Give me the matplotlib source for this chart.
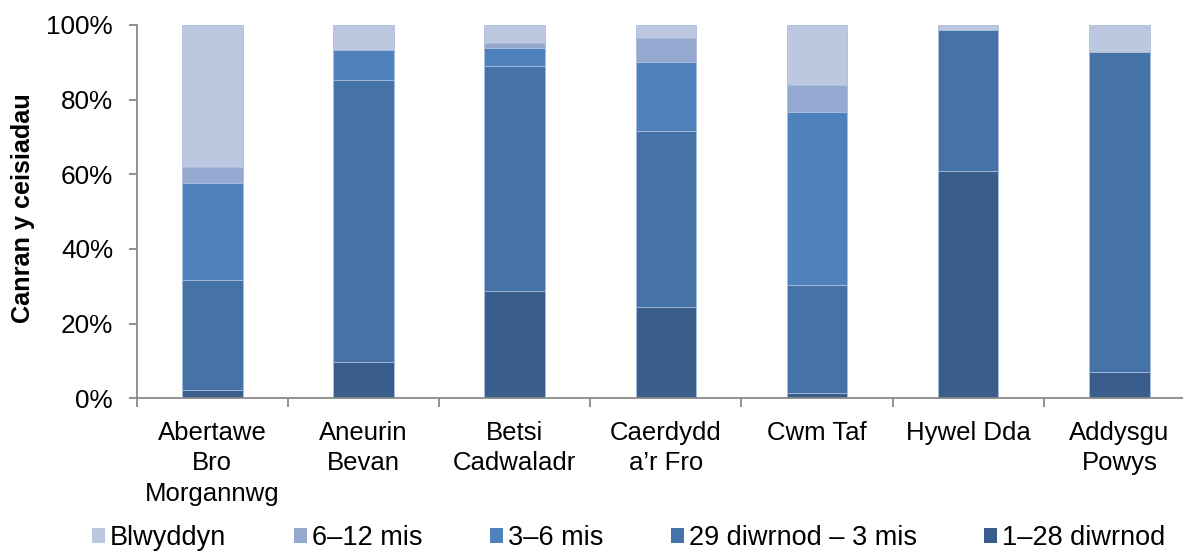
import matplotlib.pyplot as plt
from matplotlib.patches import Patch
import numpy as np

plt.rcParams["font.family"] = ["Liberation Sans", "DejaVu Sans"]

categories = [
    "Abertawe\nBro\nMorgannwg",
    "Aneurin\nBevan",
    "Betsi\nCadwaladr",
    "Caerdydd\na\u2019r Fro",
    "Cwm Taf",
    "Hywel Dda",
    "Addysgu\nPowys",
]

# percentage of requests, bottom segment first
days_1_28 = [2.2, 9.6, 28.7, 24.4, 1.3, 60.8, 7.0]
days_29_3m = [29.4, 75.6, 60.4, 47.1, 29.0, 37.9, 85.9]
months_3_6 = [26.2, 8.1, 4.8, 18.7, 46.4, 0.0, 0.0]
months_6_12 = [4.2, 0.0, 1.4, 6.4, 7.2, 0.0, 0.0]
year_plus = [38.0, 6.7, 4.7, 3.4, 16.1, 1.3, 7.1]

series = [
    ("1\u201328 diwrnod", days_1_28, "#3A5E8C"),
    ("29 diwrnod \u2013 3 mis", days_29_3m, "#4573A7"),
    ("3\u20136 mis", months_3_6, "#4F81BD"),
    ("6\u201312 mis", months_6_12, "#95A9D0"),
    ("Blwyddyn", year_plus, "#BCC8E0"),
]

W, H = 1183, 552
fig = plt.figure(figsize=(W / 100, H / 100), dpi=100)
ax = fig.add_axes([136.7 / W, 1 - 398.3 / H, (1195 - 136.7) / W, (398.3 - 25) / H])

x = np.arange(len(categories))
bottom = np.zeros(len(categories))
for label, vals, color in series:
    vals = np.array(vals)
    ax.bar(x, vals, 0.4, bottom=bottom, color=color, edgecolor="#A9BDDC",
           linewidth=0.6, label=label)
    bottom += vals

ax.set_xlim(-0.5, len(categories) - 0.5)
ax.set_ylim(0, 100)
ax.set_yticks(np.arange(0, 101, 20))
ax.set_yticklabels([f"{v}%" for v in range(0, 101, 20)])

ax.set_xticks(x)
ax.set_xticklabels(categories, linespacing=1.35)
ax.set_xticks(np.arange(-0.5, len(categories)), minor=True)
ax.tick_params(axis="x", which="major", length=0, pad=16, labelsize=18.5)
ax.tick_params(axis="x", which="minor", length=6.5, width=1.3, color="#898989")
ax.tick_params(axis="y", length=6, width=1.3, color="#898989", pad=11, labelsize=18.8)

for side in ["top", "right"]:
    ax.spines[side].set_visible(False)
for side in ["left", "bottom"]:
    ax.spines[side].set_color("#898989")
    ax.spines[side].set_linewidth(1.3)

fig.text(23 / W, 1 - 208 / H, "Canran y ceisiadau", rotation=90,
         ha="center", va="center", fontsize=18.2, fontweight="bold")

handles = [Patch(facecolor=c, label=l) for l, _, c in series][::-1]
fig.legend(handles=handles, loc="center left", bbox_to_anchor=(92 / W, 1 - 538 / H),
           ncol=5, frameon=False, fontsize=19.5, handlelength=0.48, handleheight=0.48,
           handletextpad=0.18, columnspacing=2.5, borderaxespad=0, borderpad=0)

fig.savefig("out.png", dpi=100)
